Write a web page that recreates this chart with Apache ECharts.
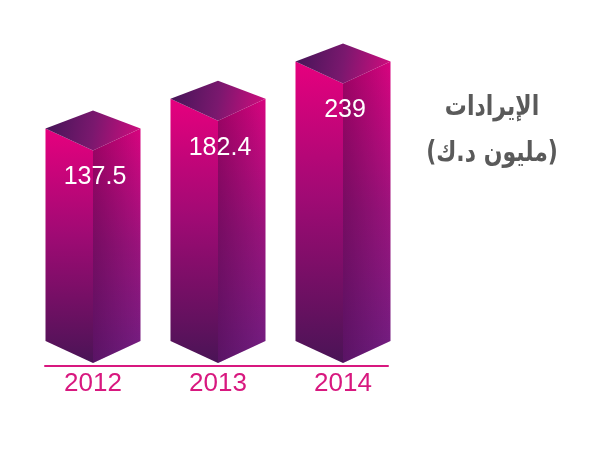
<!DOCTYPE html>
<html>
<head>
<meta charset="utf-8">
<script src="https://cdn.jsdelivr.net/npm/echarts@6/dist/echarts.min.js"></script>
<style>
html,body{margin:0;padding:0;background:#fff;}
#main{width:600px;height:450px;}
</style>
</head>
<body>
<div id="main"></div>
<script>
// الإيرادات
var years = ['2012', '2013', '2014'];
var revenue = [137.5, 182.4, 239];
var valueLabels = ['137.5', '182.4', '239'];
var titleLines = ['الإيرادات', '(مليون د.ك)'];

var yMin = -185;
var yMax = 305;

var chartDom = document.getElementById('main');
var myChart = echarts.init(chartDom);

function renderPrism(params, api) {
    var i = api.value(0);
    var top = api.coord([i, api.value(1)]);
    var base = api.coord([i, yMin]);
    var cx = top[0], ty = top[1], by = base[1];
    var w = api.size([1, 0])[0] * 0.38;
    var d = 22;

    var leftFace = {
        type: 'polygon',
        shape: { points: [[cx - w, ty - d], [cx, ty], [cx, by], [cx - w, by - d]] },
        style: {
            fill: new echarts.graphic.LinearGradient(0, 0, 0, 1, [
                { offset: 0, color: '#e6007e' },
                { offset: 0.45, color: '#a00a74' },
                { offset: 1, color: '#4a1456' }
            ])
        }
    };
    var rightFace = {
        type: 'polygon',
        shape: { points: [[cx, ty], [cx + w, ty - d], [cx + w, by - d], [cx, by]] },
        style: {
            fill: new echarts.graphic.LinearGradient(0, 0, 0, 1, [
                { offset: 0, color: '#d8047f' },
                { offset: 0.5, color: '#9a137c' },
                { offset: 1, color: '#6e1e80' }
            ])
        }
    };
    var rightShade = {
        type: 'polygon',
        shape: { points: [[cx, ty], [cx + w, ty - d], [cx + w, by - d], [cx, by]] },
        style: {
            fill: new echarts.graphic.LinearGradient(0, 0, 1, 0, [
                { offset: 0, color: 'rgba(50,0,50,0.35)' },
                { offset: 1, color: 'rgba(50,0,50,0)' }
            ])
        }
    };
    var topFace = {
        type: 'polygon',
        shape: { points: [[cx - w, ty - d], [cx, ty - 40], [cx + w, ty - d], [cx, ty]] },
        style: {
            fill: new echarts.graphic.LinearGradient(0, 0.3, 1, 0.7, [
                { offset: 0, color: '#451558' },
                { offset: 0.5, color: '#7a186e' },
                { offset: 1, color: '#d00c7e' }
            ])
        }
    };
    var label = {
        type: 'text',
        style: {
            text: valueLabels[params.dataIndex],
            x: cx + 2,
            y: ty + 27,
            fill: '#ffffff',
            fontSize: 25,
            fontFamily: 'Liberation Sans',
            align: 'center',
            verticalAlign: 'middle'
        }
    };
    return { type: 'group', children: [leftFace, rightFace, rightShade, topFace, label] };
}

var titleStyle = {
    fill: '#5a5a5a',
    fontSize: 22,
    fontWeight: 'bold',
    fontFamily: 'DejaVu Sans',
    align: 'center',
    verticalAlign: 'middle'
};

var option = {
    backgroundColor: '#ffffff',
    animation: false,
    grid: { left: 45, right: 212, top: 40, bottom: 87 },
    xAxis: {
        type: 'value',
        min: -0.384,
        max: 2.36,
        offset: 3,
        axisLine: { show: true, onZero: false, lineStyle: { color: '#d8187f', width: 2 } },
        axisTick: { show: false },
        splitLine: { show: false },
        axisLabel: {
            customValues: [0, 1, 2],
            formatter: function (v) { return years[Math.round(v)]; },
            color: '#d8187f',
            fontSize: 26,
            fontFamily: 'Liberation Sans',
            margin: 5
        }
    },
    yAxis: {
        type: 'value',
        min: yMin,
        max: yMax,
        show: false
    },
    graphic: [
        {
            type: 'text', x: 492, y: 108, scaleY: 1.25,
            style: Object.assign({ text: titleLines[0] }, titleStyle)
        },
        {
            type: 'text', x: 492, y: 154, scaleY: 1.25,
            style: Object.assign({ text: titleLines[1] }, titleStyle)
        }
    ],
    series: [{
        type: 'custom',
        renderItem: renderPrism,
        clip: false,
        encode: { x: 0, y: 1 },
        data: revenue.map(function (v, i) { return [i, v]; })
    }]
};

myChart.setOption(option);
</script>
</body>
</html>
